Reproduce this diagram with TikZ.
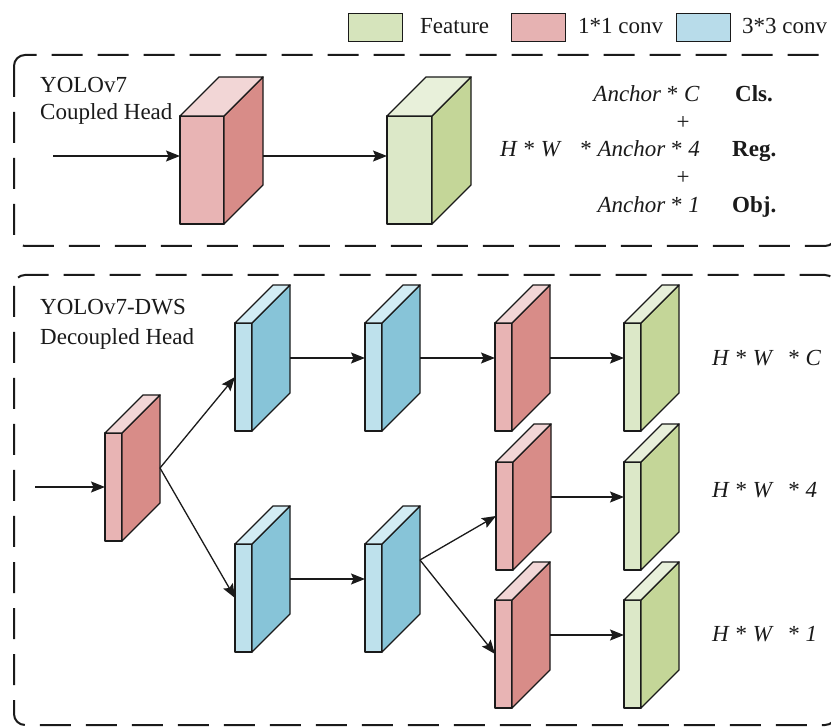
\documentclass[tikz,border=0pt]{standalone}
\usepackage{fontspec}
\setmainfont{Liberation Serif}
\usetikzlibrary{arrows.meta,calc}
\definecolor{pinkF}{HTML}{E8B4B4}
\definecolor{pinkS}{HTML}{D88C88}
\definecolor{pinkT}{HTML}{F2D6D6}
\definecolor{greenF}{HTML}{DCE8C8}
\definecolor{greenS}{HTML}{C4D698}
\definecolor{greenT}{HTML}{E8F0DA}
\definecolor{blueF}{HTML}{BEE1EC}
\definecolor{blueS}{HTML}{87C4D8}
\definecolor{blueT}{HTML}{D2ECF4}
\definecolor{legG}{HTML}{D6E4BC}
\definecolor{legP}{HTML}{E6B2B2}
\definecolor{legB}{HTML}{B8DCEA}
\definecolor{ink}{HTML}{1A1A1A}
\tikzset{
  face/.style={draw=ink, line width=1.4pt, inner sep=0pt, outer sep=0pt, line join=round},
  edge/.style={draw=ink, line width=1.4pt, line join=round},
  arr/.style={draw=ink, line width=1.3pt, -{Stealth[length=14pt,width=11pt,inset=2.5pt]}},
  dashbox/.style={draw=ink, line width=2pt, dash pattern=on 31pt off 15pt, rounded corners=11pt},
  txt/.style={inner sep=0pt, font=\fontsize{23}{28}\selectfont, text=ink},
  legbox/.style={draw=ink, line width=1.3pt, inner sep=0pt, minimum width=54pt, minimum height=28pt, anchor=north west}
}
% #1 name, #2 x, #3 y (front top-left), #4 front width, #5 depth, #6 colour prefix
\newcommand{\mycuboid}[6]{%
  \node[face, fill=#6F, minimum width=#4pt, minimum height=108pt, anchor=north west] (#1) at (#2,#3) {};
  \draw[edge, fill=#6S] (#1.north east) -- ++(#5,-#5) -- ++(0,108) -- (#1.south east) -- cycle;
  \draw[edge, fill=#6T] (#1.north west) -- ++(#5,-#5) -- ++(#4,0) -- (#1.north east) -- cycle;
  \coordinate (#1-out) at ($(#1.east)+(#5,-#5/2)$);
  \coordinate (#1-back) at ($(#1.east)+(#5,-#5)$);
}
\begin{document}
\begin{tikzpicture}[x=1pt,y=-1pt]
\useasboundingbox (0,0) rectangle (831,727);
\fill[white] (0,0) rectangle (831,727);

% legend
\node[legbox, fill=legG] (lg) at (348,13) {};
\node[txt, anchor=base west] (lgt) at (420,34) {Feature};
\node[legbox, fill=legP] (lp) at (511,13) {};
\node[txt, anchor=base west] (lpt) at (578,34) {1*1 conv};
\node[legbox, fill=legB] (lb) at (676,13) {};
\node[txt, anchor=base west] (lbt) at (742,34) {3*3 conv};

% dashed frames
\draw[dashbox] (14,55) rectangle (836,246);
\draw[dashbox] (14,275) rectangle (836,725);

% ---------- coupled head ----------
\node[txt, anchor=base west] (t1a) at (40,93) {YOLOv7};
\node[txt, anchor=base west] (t1b) at (40,120) {Coupled Head};
\mycuboid{CP}{180}{116}{44}{39}{pink}
\mycuboid{CG}{387}{116}{45}{39}{green}
\coordinate (inA) at (53,156);
\draw[arr] (inA) -- (CP.west |- inA);
\draw[arr] (CP-back |- inA) -- (CG.west |- inA);

\node[txt, anchor=base east] (a1) at (700,102) {\textit{Anchor} * \textit{C}};
\node[txt] (pl1) at (683,123) {+};
\node[txt, anchor=base west] (hw) at (500,157) {\textit{H} * \textit{W}};
\node[txt, anchor=base east] (a2) at (700,157) {* \textit{Anchor} * \textit{4}};
\node[txt] (pl2) at (683,178) {+};
\node[txt, anchor=base east] (a3) at (700,213) {\textit{Anchor} * \textit{1}};
\node[txt, anchor=base west, font=\fontsize{23}{28}\selectfont\bfseries] (cls) at (735,102) {Cls.};
\node[txt, anchor=base west, font=\fontsize{23}{28}\selectfont\bfseries] (reg) at (732,157) {Reg.};
\node[txt, anchor=base west, font=\fontsize{23}{28}\selectfont\bfseries] (obj) at (732,213) {Obj.};

% ---------- decoupled head ----------
\node[txt, anchor=base west] (t2a) at (40,315) {YOLOv7-DWS};
\node[txt, anchor=base west] (t2b) at (40,345) {Decoupled Head};

\mycuboid{P1}{105}{433}{17}{38}{pink}
\mycuboid{B1}{235}{323}{17}{38}{blue}
\mycuboid{B2}{365}{323}{17}{38}{blue}
\mycuboid{P2}{495}{323}{17}{38}{pink}
\mycuboid{G2}{624}{323}{17}{38}{green}
\mycuboid{P3}{496}{462}{17}{38}{pink}
\mycuboid{G3}{624}{462}{17}{38}{green}
\mycuboid{B3}{235}{544}{17}{38}{blue}
\mycuboid{B4}{365}{544}{17}{38}{blue}
\mycuboid{P4}{495}{600}{17}{38}{pink}
\mycuboid{G4}{624}{600}{17}{38}{green}

\coordinate (inB) at (35,487);
\draw[arr] (inB) -- (P1.west);
\draw[arr] (P1-out) -- (B1.west);
\draw[arr] (P1-out) -- (B3.west);
\draw[arr] (B1-out) -- (B2.west |- B1-out);
\draw[arr] (B2-out) -- (P2.west |- B2-out);
\draw[arr] (P2-out) -- (G2.west |- P2-out);
\draw[arr] (B3-out) -- (B4.west |- B3-out);
\draw[arr] (B4-back) -- (P3.west);
\draw[arr] (B4-back) -- (P4.west);
\draw[arr] (P3-out) -- (G3.west |- P3-out);
\draw[arr] (P4-out) -- (G4.west |- P4-out);

\node[txt, anchor=base west] (o1) at (712,366) {\textit{H} * \textit{W}\hspace{9pt} * \textit{C}};
\node[txt, anchor=base west] (o2) at (712,498) {\textit{H} * \textit{W}\hspace{9pt} * \textit{4}};
\node[txt, anchor=base west] (o3) at (712,641) {\textit{H} * \textit{W}\hspace{9pt} * \textit{1}};
\end{tikzpicture}
\end{document}
